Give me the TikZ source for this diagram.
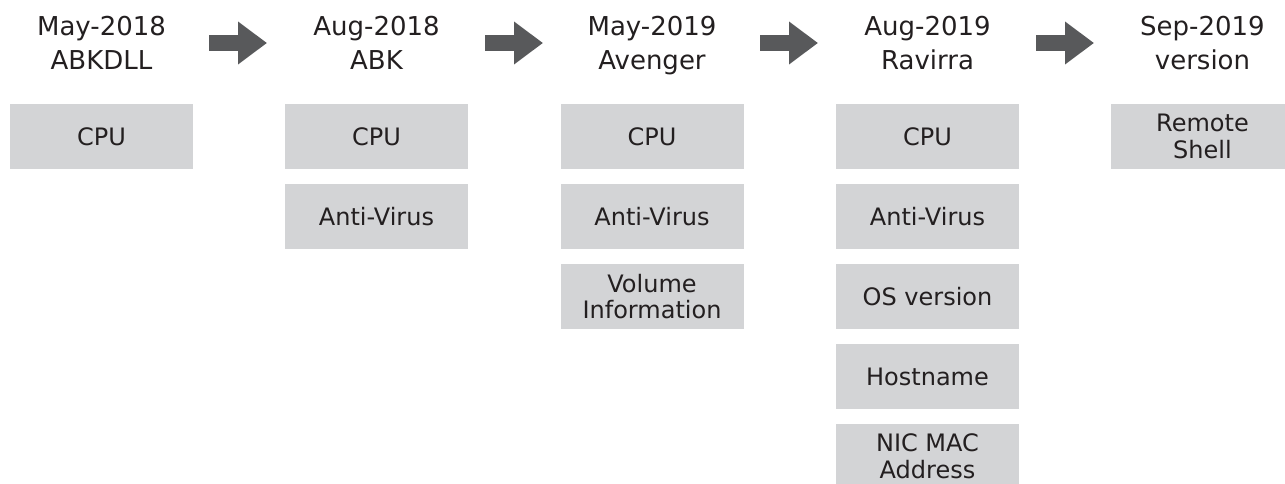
\documentclass[tikz,border=0pt]{standalone}
\usepackage{fontspec}
\setmainfont{DejaVu Sans}
\usetikzlibrary{arrows.meta}
\definecolor{boxgray}{HTML}{D3D4D6}
\definecolor{arrowgray}{HTML}{58595B}
\definecolor{textblack}{HTML}{231F20}
\tikzset{
	title/.style={align=center, anchor=base, text=textblack, font=\fontsize{26pt}{34pt}\selectfont},
	infobox/.style={fill=boxgray, minimum width=183pt, minimum height=65pt, align=center, text=textblack, inner sep=0pt, font=\fontsize{24pt}{26.5pt}\selectfont},
	blockarrow/.style={draw=arrowgray, line width=16pt, -{Triangle[length=29pt,width=41pt]}}
}

\begin{document}
\begin{tikzpicture}
		\clip (0,0) rectangle (1285pt,-484pt);
		
		\node (T1) at (101.5pt,-70pt) [title] {May-2018\\ABKDLL};
		\node (T2) at (376.5pt,-70pt) [title] {Aug-2018\\ABK};
		\node (T3) at (652pt,-70pt) [title] {May-2019\\Avenger};
		\node (T4) at (927.5pt,-70pt) [title] {Aug-2019\\Ravirra};
		\node (T5) at (1202.5pt,-70pt) [title] {Sep-2019\\version};
		
		\coordinate (A1s) at (209pt,-43pt);  \coordinate (A1e) at (267pt,-43pt);
		\coordinate (A2s) at (485pt,-43pt);  \coordinate (A2e) at (543pt,-43pt);
		\coordinate (A3s) at (760pt,-43pt);  \coordinate (A3e) at (818pt,-43pt);
		\coordinate (A4s) at (1036pt,-43pt); \coordinate (A4e) at (1094pt,-43pt);
		\draw [blockarrow] (A1s) -- (A1e);
		\draw [blockarrow] (A2s) -- (A2e);
		\draw [blockarrow] (A3s) -- (A3e);
		\draw [blockarrow] (A4s) -- (A4e);
		
		\node (Ca) at (101.5pt,-136.5pt) [infobox] {CPU};
		
		\node (Cb) at (376.5pt,-136.5pt) [infobox] {CPU};
		\node (Vb) at (376.5pt,-216.5pt) [infobox] {Anti-Virus};
		
		\node (Cc) at (652pt,-136.5pt) [infobox] {CPU};
		\node (Vc) at (652pt,-216.5pt) [infobox] {Anti-Virus};
		\node (Ic) at (652pt,-296.5pt) [infobox] {Volume\\Information};
		
		\node (Cd) at (927.5pt,-136.5pt) [infobox] {CPU};
		\node (Vd) at (927.5pt,-216.5pt) [infobox] {Anti-Virus};
		\node (Od) at (927.5pt,-296.5pt) [infobox] {OS version};
		\node (Hd) at (927.5pt,-376.5pt) [infobox] {Hostname};
		\node (Md) at (927.5pt,-456.5pt) [infobox] {NIC MAC\\Address};
		
		\node (Re) at (1202.5pt,-136.5pt) [infobox] {Remote\\Shell};
\end{tikzpicture}
\end{document}
